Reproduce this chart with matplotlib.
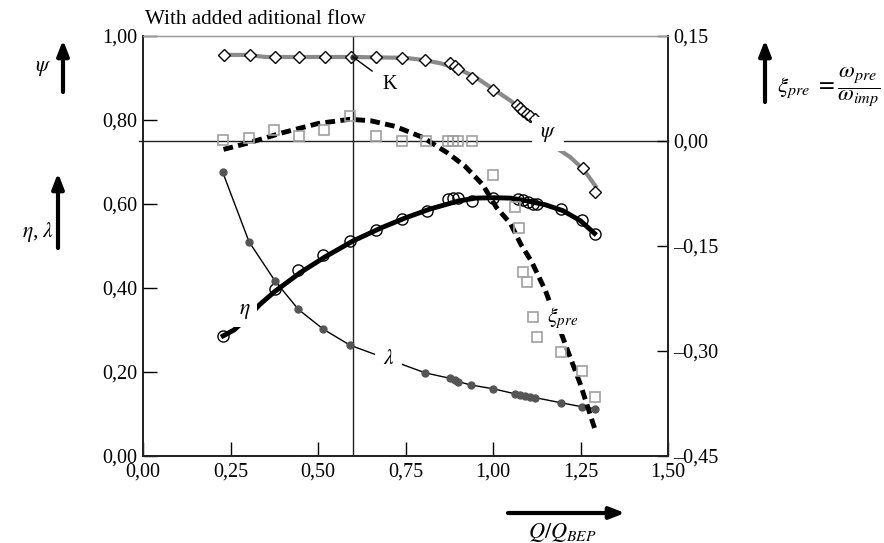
import matplotlib
matplotlib.use("Agg")
import matplotlib.pyplot as plt

plt.rcParams['font.family'] = ['Liberation Serif', 'DejaVu Serif']
plt.rcParams['mathtext.fontset'] = 'stix'

# ---------------- data ----------------
# psi (head coefficient) measured points, left axis
psi_x = [0.231, 0.305, 0.376, 0.447, 0.52, 0.593, 0.667, 0.741, 0.806, 0.877, 0.891, 0.900,
         0.939, 1.001, 1.068, 1.077, 1.087, 1.096, 1.106, 1.120, 1.258, 1.291]
psi_y = [0.954, 0.954, 0.949, 0.949, 0.949, 0.949, 0.949, 0.948, 0.942, 0.936, 0.929, 0.921,
         0.899, 0.871, 0.836, 0.829, 0.821, 0.815, 0.810, 0.802, 0.686, 0.629]
# psi fitted curve
psi_fit_x = [0.23, 0.30, 0.35, 0.45, 0.60, 0.75, 0.80, 0.85, 0.90, 0.95, 1.00, 1.05, 1.10,
             1.13, 1.187, 1.22, 1.258, 1.296]
psi_fit_y = [0.955, 0.955, 0.950, 0.950, 0.950, 0.948, 0.943, 0.935, 0.922, 0.902, 0.874,
             0.846, 0.812, 0.786, 0.730, 0.712, 0.683, 0.639]

# eta (efficiency) measured points, left axis
eta_x = [0.229, 0.377, 0.444, 0.515, 0.590, 0.666, 0.739, 0.810, 0.872, 0.887, 0.901, 0.939,
         1.001, 1.072, 1.087, 1.101, 1.115, 1.125, 1.193, 1.253, 1.290]
eta_y = [0.286, 0.397, 0.442, 0.479, 0.512, 0.538, 0.564, 0.583, 0.611, 0.615, 0.615, 0.607,
         0.615, 0.611, 0.609, 0.605, 0.601, 0.601, 0.587, 0.561, 0.529]
eta_fit_x = [0.229, 0.26, 0.30, 0.334, 0.377, 0.45, 0.52, 0.60, 0.68, 0.75, 0.82, 0.90, 0.95,
             1.00, 1.05, 1.10, 1.15, 1.20, 1.25, 1.29]
eta_fit_y = [0.286, 0.300, 0.330, 0.361, 0.392, 0.437, 0.474, 0.512, 0.543, 0.567, 0.588,
             0.607, 0.614, 0.615, 0.614, 0.607, 0.598, 0.584, 0.560, 0.530]

# lambda (power coefficient) measured points, left axis
lam_x = [0.228, 0.303, 0.377, 0.444, 0.515, 0.591, 0.806, 0.877, 0.891, 0.901, 0.937, 1.001,
         1.063, 1.077, 1.091, 1.106, 1.120, 1.193, 1.255, 1.290]
lam_y = [0.675, 0.510, 0.417, 0.349, 0.302, 0.264, 0.198, 0.185, 0.180, 0.177, 0.169, 0.160,
         0.148, 0.145, 0.143, 0.141, 0.139, 0.127, 0.117, 0.113]

# xi_pre (pre-rotation) measured points, right axis
xi_x = [0.229, 0.303, 0.375, 0.445, 0.518, 0.591, 0.666, 0.739, 0.808, 0.872, 0.887, 0.901,
        0.939, 1.001, 1.063, 1.074, 1.087, 1.096, 1.113, 1.125, 1.193, 1.255, 1.290]
xi_y = [0.001, 0.004, 0.015, 0.007, 0.015, 0.035, 0.007, 0.000, 0.000, 0.000, 0.000, 0.000,
        0.000, -0.048, -0.094, -0.124, -0.187, -0.201, -0.251, -0.280, -0.302, -0.329, -0.366]
xi_fit_x = [0.23, 0.30, 0.40, 0.50, 0.59, 0.65, 0.72, 0.80, 0.87, 0.92, 0.97, 1.01, 1.05,
            1.08, 1.11, 1.15, 1.21, 1.25, 1.29]
xi_fit_y = [-0.012, -0.003, 0.012, 0.025, 0.031, 0.029, 0.021, 0.005, -0.017, -0.036, -0.062,
            -0.095, -0.118, -0.148, -0.172, -0.214, -0.295, -0.348, -0.410]

x_ticks = [0.0, 0.25, 0.5, 0.75, 1.0, 1.25, 1.5]
x_labels = ['0,00', '0,25', '0,50', '0,75', '1,00', '1,25', '1,50']
yl_ticks = [0.0, 0.2, 0.4, 0.6, 0.8, 1.0]
yl_labels = ['0,00', '0,20', '0,40', '0,60', '0,80', '1,00']
yr_ticks = [-0.45, -0.30, -0.15, 0.0, 0.15]
yr_labels = ['\u20130,45', '\u20130,30', '\u20130,15', '0,00', '0,15']

# ---------------- figure ----------------
W, H = 884, 543
fig = plt.figure(figsize=(W / 100, H / 100), dpi=100)
ax = fig.add_axes([143 / W, 1 - 456 / H, (668 - 143) / W, (456 - 36) / H])
ax2 = ax.twinx()

FS = 14.5

ax.set_xlim(0, 1.5)
ax.set_ylim(0, 1.0)
ax2.set_ylim(-0.45, 0.15)

ax.set_xticks(x_ticks)
ax.set_xticklabels(x_labels, fontsize=FS)
ax.set_yticks(yl_ticks)
ax.set_yticklabels(yl_labels, fontsize=FS)
ax2.set_yticks(yr_ticks)
ax2.set_yticklabels(yr_labels, fontsize=FS)

ax.tick_params(axis='both', direction='in', length=10, width=1.0, pad=4)
ax.tick_params(axis='x', pad=5)
ax2.tick_params(axis='y', direction='in', length=8, width=1.0, pad=4)

for a in (ax, ax2):
    a.spines['top'].set_color('#999999')
    a.spines['top'].set_linewidth(0.9)
    for s in ('left', 'bottom', 'right'):
        a.spines[s].set_linewidth(1.3)
        a.spines[s].set_color('#222222')

# reference lines
ax.plot([-0.012, 1.5], [0.75, 0.75], color='#222222', lw=1.0, clip_on=False, zorder=1)
ax.axvline(0.60, color='#222222', lw=1.0, zorder=1)

# psi
ax.plot(psi_fit_x, psi_fit_y, color='#8a8a8a', lw=3, solid_capstyle='butt', zorder=3)
ax.plot(psi_x, psi_y, linestyle='none', marker='D', ms=6.5, mfc='white', mec='black',
        mew=1.0, zorder=4)
# eta
ax.plot(eta_fit_x, eta_fit_y, color='black', lw=3.5, zorder=3)
ax.plot(eta_x, eta_y, linestyle='none', marker='o', ms=8, mfc='none', mec='black',
        mew=1.0, zorder=4)
# lambda
ax.plot(lam_x, lam_y, color='black', lw=1.0, zorder=3)
ax.plot(lam_x, lam_y, linestyle='none', marker='o', ms=5, mfc='#555555', mec='#555555',
        zorder=4)

# xi_pre on right axis
ax2.plot(xi_fit_x, xi_fit_y, color='black', lw=3.5, linestyle=(0, (2.0, 1.1)), zorder=3)
ax2.plot(xi_x, xi_y, linestyle='none', marker='s', ms=7.5, mfc='none', mec='#a0a0a0',
         mew=1.2, zorder=4)

# K annotation
ax.plot([0.60], [0.95], marker='o', ms=3.5, color='#333333', zorder=5)
ax.annotate('K', xy=(0.60, 0.95), xytext=(0.706, 0.885), fontsize=FS, ha='center',
            va='center', arrowprops=dict(arrowstyle='-', color='black', lw=1.0,
                                         shrinkA=7, shrinkB=0), zorder=6)

ax.text(1.157, 0.766, r'$\psi$', fontsize=FS + 1, ha='center', va='center',
        bbox=dict(boxstyle='square,pad=0.35', fc='white', ec='none'), zorder=6)
ax.text(0.291, 0.345, r'$\eta$', fontsize=FS + 1, ha='center', va='center',
        bbox=dict(boxstyle='square,pad=0.3', fc='white', ec='none'), zorder=6)
ax.text(0.701, 0.229, r'$\lambda$', fontsize=FS + 1, ha='center', va='center',
        bbox=dict(boxstyle='square,pad=0.35', fc='white', ec='none'), zorder=6)
ax2.text(1.155, -0.253, r'$\xi_{pre}$', fontsize=FS + 1, ha='left', va='center',
         bbox=dict(boxstyle='square,pad=0.15', fc='white', ec='none'), zorder=6)

# ---------------- figure-level labels and arrows ----------------
def fx(px):
    return px / W

def fy(py):
    return 1 - py / H

fig.text(fx(145), fy(20), 'With added aditional flow', fontsize=15.2, ha='left', va='center')

arrow = dict(arrowstyle='-|>,head_length=0.9,head_width=0.35', lw=3, color='black',
             shrinkA=0, shrinkB=0)

fig.add_artist(plt.Annotation('', xy=(fx(63), fy(40)), xytext=(fx(63), fy(92)),
                              xycoords='figure fraction', arrowprops=arrow))
fig.text(fx(43), fy(68), r'$\psi$', fontsize=FS + 1, ha='center', va='center')

fig.add_artist(plt.Annotation('', xy=(fx(58), fy(173)), xytext=(fx(58), fy(248)),
                              xycoords='figure fraction', arrowprops=arrow))
fig.text(fx(38), fy(232), r'$\eta$, $\lambda$', fontsize=FS + 1, ha='center', va='center')

fig.add_artist(plt.Annotation('', xy=(fx(765), fy(40)), xytext=(fx(765), fy(102)),
                              xycoords='figure fraction', arrowprops=arrow))
fig.text(fx(777), fy(87), r'$\xi_{pre}\ = \dfrac{\omega_{pre}}{\omega_{imp}}$',
         fontsize=16.5, ha='left', va='center')

fig.add_artist(plt.Annotation('', xy=(fx(625), fy(513)), xytext=(fx(508), fy(513)),
                              xycoords='figure fraction', arrowprops=arrow))
fig.text(fx(562), fy(533), r'$Q/Q_{BEP}$', fontsize=FS + 1.5, ha='center', va='center')

fig.savefig('out.png', dpi=100)
